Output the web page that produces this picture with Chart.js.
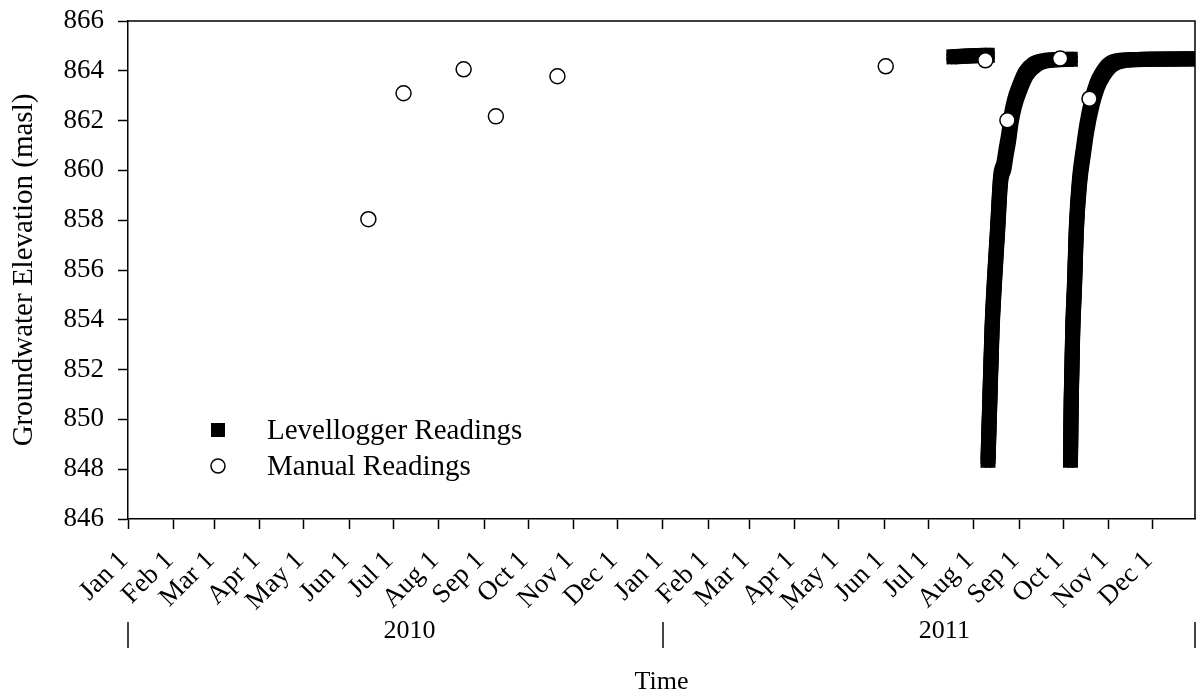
<!DOCTYPE html>
<html>
<head>
<meta charset="utf-8">
<title>Groundwater elevation</title>
<script src="https://cdn.jsdelivr.net/npm/chart.js@4.4.1/dist/chart.umd.min.js"></script>
<style>
  html, body { margin: 0; padding: 0; background: #fff; }
  canvas { display: block; }
</style>
</head>
<body>
<canvas id="chart" width="1197" height="698"></canvas>
<script>
// manual dip readings
const manualDates = ['2010-06-14', '2010-07-08', '2010-08-18', '2010-09-09', '2010-10-21',
  '2011-06-02', '2011-08-09', '2011-08-24', '2011-09-29', '2011-10-19'];
const manualLevels = [858.04, 863.10, 864.06, 862.17, 863.78,
  864.18, 864.42, 862.01, 864.49, 862.88];

// levellogger trace; a null level breaks the line before each recovery
const loggerDates = [
  '2011-07-18T12:00', '2011-07-28T00:00', '2011-08-10T07:00',
  '2011-08-10T12:00',
  '2011-08-10T19:00', '2011-08-12T02:00', '2011-08-13T12:00', '2011-08-15T05:00',
  '2011-08-17T07:00', '2011-08-19T07:00', '2011-08-21T17:00', '2011-08-23T00:00',
  '2011-08-24T22:00', '2011-08-26T10:00', '2011-08-28T19:00', '2011-09-01T14:00',
  '2011-09-05T17:00', '2011-09-11T19:00', '2011-09-20T17:00', '2011-10-05T22:00',
  '2011-10-06T00:00',
  '2011-10-06T01:00', '2011-10-06T14:00', '2011-10-07T14:00', '2011-10-08T22:00',
  '2011-10-10T00:00', '2011-10-12T07:00', '2011-10-14T19:00', '2011-10-17T02:00',
  '2011-10-20T19:00', '2011-10-24T05:00', '2011-10-27T14:00', '2011-11-01T19:00',
  '2011-11-10T22:00', '2011-11-25T17:00', '2011-12-31T00:00'
];
const loggerLevels = [
  864.56, 864.59, 864.62,
  null,
  848.36, 850.89, 853.58, 855.59,
  857.60, 859.60, 860.20, 860.69,
  861.34, 862.01, 862.69, 863.35,
  863.89, 864.26, 864.42, 864.46,
  null,
  848.36, 850.89, 853.58, 855.59,
  857.60, 859.60, 860.74, 861.68,
  862.75, 863.42, 863.82, 864.22,
  864.42, 864.46, 864.48
];

const monthNames = ['Jan 1', 'Feb 1', 'Mar 1', 'Apr 1', 'May 1', 'Jun 1',
  'Jul 1', 'Aug 1', 'Sep 1', 'Oct 1', 'Nov 1', 'Dec 1'];
const years = [2010, 2011];
const yearNames = ['2010', '2011'];

// x runs in days from Jan 1 2010
const EPOCH = Date.UTC(2010, 0, 1);
const toDay = s => (Date.parse(s.length > 10 ? s + ':00Z' : s + 'T00:00:00Z') - EPOCH) / 864e5;
const DAY_MAX = 728;

const monthStarts = [];
years.forEach(y => {
  for (let m = 0; m < 12; m++) monthStarts.push((Date.UTC(y, m, 1) - EPOCH) / 864e5);
});

// second row: separators at the year ends, year names near mid-year
const yearTicks = [0];
const yearRow = ['|'];
years.forEach((y, i) => {
  yearTicks.push(toDay(y + '-07-12'));
  yearRow.push(yearNames[i]);
  yearTicks.push(Math.min(toDay((y + 1) + '-01-01'), DAY_MAX));
  yearRow.push('|');
});

const SERIF = "'Liberation Serif', 'Times New Roman', serif";
Chart.defaults.font.family = SERIF;
Chart.defaults.color = '#000';

// the logger trace is a run of square symbols, so restroke the thin line
// at offsets across a square to get the same swept band
const SWEEP = 4;
const squareSweep = {
  id: 'squareSweep',
  afterDatasetDraw(chart, args) {
    if (args.index !== 0) return;
    const { ctx, chartArea: a } = chart;
    const line = args.meta.dataset;
    ctx.save();
    ctx.beginPath();
    ctx.rect(a.left, a.top, a.right - a.left, a.bottom - a.top);
    ctx.clip();
    for (const dx of [-SWEEP, 0, SWEEP]) {
      for (const dy of [-SWEEP, 0, SWEEP]) {
        if (!dx && !dy) continue;
        ctx.save();
        ctx.translate(dx, dy);
        line.draw(ctx, a);
        ctx.restore();
      }
    }
    ctx.restore();
  }
};

// top and right sides of the plot box
const frame = {
  id: 'frame',
  afterDatasetsDraw(chart) {
    const { ctx, chartArea: a } = chart;
    ctx.save();
    ctx.strokeStyle = '#000';
    ctx.lineWidth = 1.5;
    ctx.beginPath();
    ctx.moveTo(a.left, a.top);
    ctx.lineTo(a.right, a.top);
    ctx.lineTo(a.right, a.bottom);
    ctx.stroke();
    ctx.restore();
  }
};

// legend in the lower left of the plot
const insideLegend = {
  id: 'insideLegend',
  afterDraw(chart) {
    const { ctx, chartArea: a } = chart;
    const mx = a.left + 90;
    const tx = a.left + 139;
    const rows = [a.bottom - 89, a.bottom - 53];
    ctx.save();
    chart.data.datasets.forEach((ds, i) => {
      const y = rows[i];
      if (ds.showLine === false) {
        ctx.beginPath();
        ctx.arc(mx, y, 7, 0, Math.PI * 2);
        ctx.fillStyle = '#fff';
        ctx.fill();
        ctx.lineWidth = 1.5;
        ctx.strokeStyle = '#000';
        ctx.stroke();
      } else {
        ctx.fillStyle = '#000';
        ctx.fillRect(mx - 7, y - 7, 14, 14);
      }
      ctx.fillStyle = '#000';
      ctx.font = '29px ' + SERIF;
      ctx.textBaseline = 'middle';
      ctx.textAlign = 'left';
      ctx.fillText(ds.label, tx, y + 1);
    });
    ctx.restore();
  }
};

new Chart(document.getElementById('chart'), {
  type: 'line',
  data: {
    datasets: [
      {
        label: 'Levellogger Readings',
        data: loggerDates.map((d, i) => ({ x: toDay(d), y: loggerLevels[i] })),
        borderColor: '#000',
        borderWidth: 7,
        borderCapStyle: 'square',
        borderJoinStyle: 'round',
        cubicInterpolationMode: 'monotone',
        pointRadius: 0,
        spanGaps: false,
        clip: 0,
        order: 1
      },
      {
        label: 'Manual Readings',
        data: manualDates.map((d, i) => ({ x: toDay(d), y: manualLevels[i] })),
        showLine: false,
        pointRadius: 7.5,
        pointBackgroundColor: '#fff',
        pointBorderColor: '#000',
        pointBorderWidth: 1.5,
        order: 0
      }
    ]
  },
  options: {
    responsive: false,
    animation: false,
    events: [],
    layout: { autoPadding: false, padding: { top: 21, right: 2, bottom: 0, left: 0 } },
    plugins: { legend: { display: false }, tooltip: { enabled: false } },
    scales: {
      x: {
        type: 'linear',
        position: 'bottom',
        weight: 0,
        min: 0,
        max: DAY_MAX,
        afterBuildTicks: s => { s.ticks = monthStarts.map(v => ({ value: v })); },
        afterFit: s => { s.height = 96; s.paddingLeft = 0; s.paddingRight = 0; },
        grid: { drawOnChartArea: false, tickLength: 10, tickWidth: 1.5, tickColor: '#000' },
        border: { color: '#000', width: 1.5 },
        ticks: {
          autoSkip: false,
          minRotation: 45,
          maxRotation: 45,
          padding: 16,
          labelOffset: -4,
          font: { size: 27 },
          callback: (v, i) => monthNames[i % 12]
        }
      },
      year: {
        type: 'linear',
        position: 'bottom',
        weight: 1,
        min: 0,
        max: DAY_MAX,
        afterBuildTicks: s => { s.ticks = yearTicks.map(v => ({ value: v })); },
        afterFit: s => { s.height = 83; s.paddingLeft = 0; s.paddingRight = 0; },
        grid: { display: false, drawTicks: false },
        border: { display: false },
        ticks: {
          autoSkip: false,
          maxRotation: 0,
          padding: 1,
          font: c => ({ size: c.index % 2 === 0 ? 30 : 26 }),
          callback: (v, i) => yearRow[i]
        },
        title: { display: true, text: 'Time', font: { size: 26 }, padding: { top: 0, bottom: 0 } }
      },
      y: {
        min: 846,
        max: 866,
        afterFit: s => { s.width = 128; s.paddingTop = 0; s.paddingBottom = 0; },
        grid: { drawOnChartArea: false, tickLength: 10, tickWidth: 1.5, tickColor: '#000' },
        border: { color: '#000', width: 1.5 },
        ticks: { stepSize: 2, padding: 14, font: { size: 27 } },
        title: {
          display: true,
          text: 'Groundwater Elevation (masl)',
          font: { size: 29 },
          padding: { top: 7, bottom: 0 }
        }
      }
    }
  },
  plugins: [squareSweep, frame, insideLegend]
});
</script>
</body>
</html>
